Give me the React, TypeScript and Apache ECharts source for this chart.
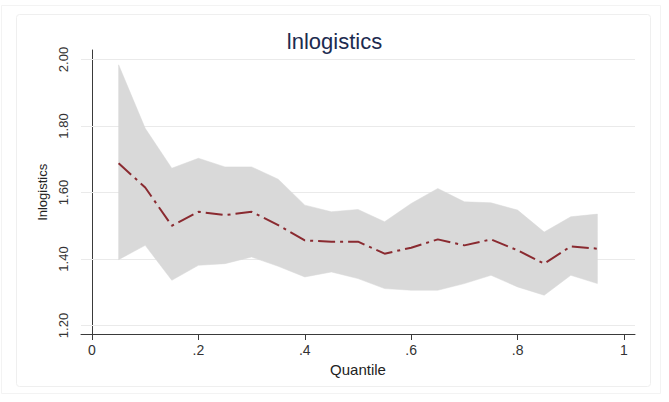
import React, { useEffect, useRef } from "react";
import * as echarts from "echarts";

const QUANTILES = [0.05, 0.1, 0.15, 0.2, 0.25, 0.3, 0.35, 0.4, 0.45, 0.5, 0.55, 0.6, 0.65, 0.7, 0.75, 0.8, 0.85, 0.9, 0.95];
const COEF = [1.688, 1.615, 1.5, 1.542, 1.532, 1.542, 1.502, 1.456, 1.452, 1.452, 1.416, 1.434, 1.459, 1.441, 1.459, 1.426, 1.386, 1.438, 1.431];
const UPPER = [1.984, 1.793, 1.673, 1.703, 1.677, 1.677, 1.64, 1.562, 1.542, 1.549, 1.512, 1.567, 1.612, 1.572, 1.569, 1.547, 1.481, 1.527, 1.535];
const LOWER = [1.398, 1.441, 1.336, 1.381, 1.386, 1.406, 1.378, 1.346, 1.361, 1.341, 1.311, 1.306, 1.306, 1.326, 1.351, 1.316, 1.291, 1.351, 1.326];
const X_TICKS = [0, 0.2, 0.4, 0.6, 0.8, 1];
const X_TICK_LABELS = ["0", ".2", ".4", ".6", ".8", "1"];
const Y_TICKS = [1.2, 1.4, 1.6, 1.8, 2.0];
const TITLE = "lnlogistics";
const X_NAME = "Quantile";
const Y_NAME = "lnlogistics";

const FONT = "'Liberation Sans', Arial, sans-serif";

export default function App() {
  const ref = useRef<HTMLDivElement>(null);
  useEffect(() => {
    if (!ref.current) return;
    const chart = echarts.init(ref.current, null, { renderer: "svg" });
    const xLabelMap: Record<string, string> = {};
    X_TICKS.forEach((v, i) => (xLabelMap[v.toFixed(2)] = X_TICK_LABELS[i]));
    chart.setOption({
      animation: false,
      backgroundColor: "#ffffff",
      title: {
        text: TITLE,
        left: "center",
        top: 25,
        textStyle: { color: "#1c2b50", fontSize: 22, fontWeight: "normal", fontFamily: FONT },
      },
      graphic: [
        { type: "rect", shape: { x: 1.5, y: 5.5, width: 659, height: 388 }, style: { fill: "none", stroke: "#f3f3f3", lineWidth: 1 }, silent: true },
        { type: "rect", shape: { x: 16.5, y: 14.5, width: 634, height: 372, r: 3 }, style: { fill: "none", stroke: "#efefef", lineWidth: 1 }, silent: true },
      ],
      grid: { left: 81, right: 34, top: 50, bottom: 68, containLabel: false },
      xAxis: {
        type: "value",
        min: -0.0207,
        max: 1.0207,
        name: X_NAME,
        nameLocation: "middle",
        nameGap: 21,
        nameTextStyle: { color: "#222", fontSize: 15, fontFamily: FONT },
        axisLine: { show: true, lineStyle: { color: "#3a3a3a", width: 1 } },
        axisTick: { show: true, length: 6, customValues: X_TICKS, lineStyle: { color: "#3a3a3a" } },
        axisLabel: {
          customValues: X_TICKS,
          margin: 9,
          color: "#333",
          fontSize: 14,
          fontFamily: FONT,
          formatter: (v: number) => xLabelMap[v.toFixed(2)] ?? "",
        },
        splitLine: { show: false },
      },
      yAxis: {
        type: "value",
        min: 1.1744,
        max: 2.0286,
        name: Y_NAME,
        nameLocation: "middle",
        nameRotate: 90,
        nameGap: 32,
        nameTextStyle: { color: "#222", fontSize: 13, fontFamily: FONT },
        axisLine: { show: true, lineStyle: { color: "#3a3a3a", width: 1 } },
        axisTick: { show: true, length: 6, customValues: Y_TICKS, lineStyle: { color: "#3a3a3a" } },
        axisLabel: {
          customValues: Y_TICKS,
          rotate: 90,
          margin: 11,
          color: "#333",
          fontSize: 13,
          fontFamily: FONT,
          formatter: (v: number) => v.toFixed(2),
        },
        splitLine: { show: false },
      },
      series: [
        {
          type: "custom",
          name: "band",
          z: 2,
          clip: true,
          data: QUANTILES.map((q, i) => [q, LOWER[i], UPPER[i]]),
          encode: { x: 0, y: [1, 2] },
          renderItem: (params: any, api: any) => {
            if (params.dataIndex !== 0) return null;
            const pts: number[][] = [];
            for (let i = 0; i < QUANTILES.length; i++) pts.push(api.coord([QUANTILES[i], UPPER[i]]));
            for (let i = QUANTILES.length - 1; i >= 0; i--) pts.push(api.coord([QUANTILES[i], LOWER[i]]));
            return { type: "polygon", shape: { points: pts }, style: { fill: "#d9d9d9", stroke: "#d9d9d9", lineWidth: 0.5 } };
          },
          markLine: {
            z: 1,
            silent: true,
            symbol: "none",
            label: { show: false },
            lineStyle: { color: "#eaeaea", width: 1, type: "solid" },
            data: Y_TICKS.map((v) => ({ yAxis: v })),
          },
        },
        {
          type: "line",
          name: "coef",
          z: 3,
          data: QUANTILES.map((q, i) => [q, COEF[i]]),
          symbol: "none",
          lineStyle: { color: "#8a2a30", width: 2, type: [17, 5, 3, 5] },
        },
      ],
    });
    return () => chart.dispose();
  }, []);
  return <div ref={ref} style={{ position: "fixed", left: 0, top: 0, width: 669, height: 402 }} />;
}
